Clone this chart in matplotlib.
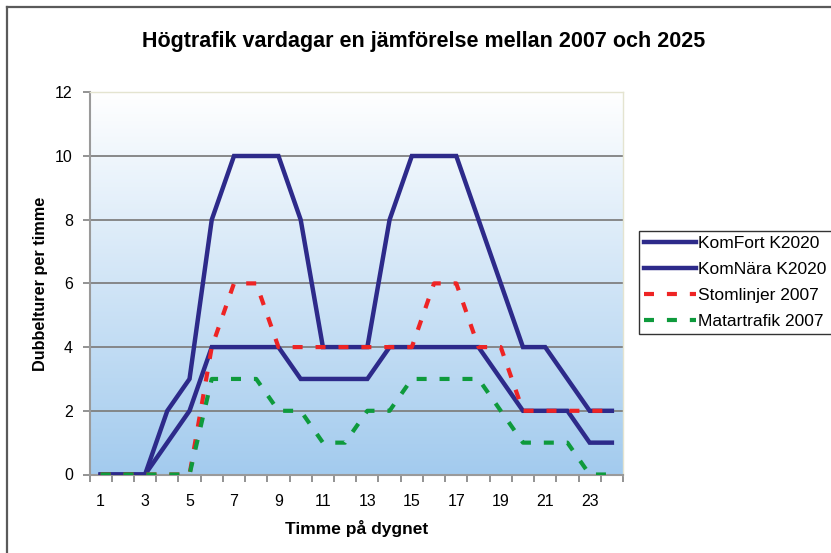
import numpy as np
import matplotlib
matplotlib.use("Agg")
import matplotlib.pyplot as plt
from matplotlib.lines import Line2D

plt.rcParams['font.family'] = ['Liberation Sans', 'DejaVu Sans']

### DATA
hours = list(range(1, 25))
komfort = [0, 0, 0, 2, 3, 8, 10, 10, 10, 8, 4, 4, 4, 8, 10, 10, 10, 8, 6, 4, 4, 3, 2, 2]
komnara = [0, 0, 0, 1, 2, 4, 4, 4, 4, 3, 3, 3, 3, 4, 4, 4, 4, 4, 3, 2, 2, 2, 1, 1]
stomlinjer = [0, 0, 0, 0, 0, 4, 6, 6, 4, 4, 4, 4, 4, 4, 4, 6, 6, 4, 4, 2, 2, 2, 2, 2]
matartrafik = [0, 0, 0, 0, 0, 3, 3, 3, 2, 2, 1, 1, 2, 2, 3, 3, 3, 3, 2, 1, 1, 1, 0, 0]
labels = ["KomFort K2020", "KomNära K2020", "Stomlinjer 2007", "Matartrafik 2007"]
y_ticks = [0, 2, 4, 6, 8, 10, 12]

NAVY = "#2D2A8A"
RED = "#EE2424"
GREEN = "#0E9A3C"

fig = plt.figure(figsize=(8.31, 5.53), dpi=100)
ax = fig.add_axes([89.5 / 831, 1 - 474.5 / 553, (623 - 89.5) / 831, (474.5 - 92.3) / 553])

### gradient background
grad = np.linspace(0, 1, 256).reshape(-1, 1)
top = np.array([1.0, 1.0, 1.0])
bot = np.array([0xA3, 0xCB, 0xEE]) / 255
img = top * (1 - grad[..., None]) + bot * grad[..., None]
img = img.reshape(256, 1, 3)
ax.imshow(img, extent=(0.5, 24.5, 0, 12), aspect='auto', zorder=0, origin='upper')

### grid lines
for yv in y_ticks[1:-1]:
    ax.axhline(yv, color="#808080", lw=1.3, zorder=1)

### the lines
ax.plot(hours, komfort, color=NAVY, lw=3.2, label=labels[0], zorder=3, solid_joinstyle='miter')
ax.plot(hours, komnara, color=NAVY, lw=3.2, label=labels[1], zorder=3, solid_joinstyle='miter')
ax.plot(hours, stomlinjer, color=RED, lw=3, dashes=(2.4, 3.1), label=labels[2], zorder=4)
ax.plot(hours, matartrafik, color=GREEN, lw=3, dashes=(2.4, 3.1), label=labels[3], zorder=5)

ax.set_xlim(0.5, 24.5)
ax.set_ylim(0, 12)
ax.set_yticks(y_ticks)
ax.set_xticks(hours[::2])
ax.set_xticks(np.arange(0.5, 25, 1), minor=True)
ax.tick_params(axis='x', which='major', length=0, pad=14, labelsize=11.5)
ax.tick_params(axis='x', which='minor', length=5, color="#808080", width=1.2)
ax.tick_params(axis='y', length=5, color="#808080", width=1.2, pad=7, labelsize=11.5)

for s in ['left', 'bottom']:
    ax.spines[s].set_color("#9a9a9a")
    ax.spines[s].set_linewidth(1.5)
for s in ['top', 'right']:
    ax.spines[s].set_color("#e4e4d0")
    ax.spines[s].set_linewidth(1.0)

ax.set_ylabel("Dubbelturer per timme", fontsize=11.7, fontweight="bold")
ax.yaxis.set_label_coords(-0.078, 0.5)
ax.set_xlabel("Timme på dygnet", fontsize=12.5, fontweight="bold")
ax.xaxis.set_label_coords(0.5, -0.118)

fig.text(424 / 831, 1 - 41 / 553, "Högtrafik vardagar en jämförelse mellan 2007 och 2025",
         ha='center', va='center', fontsize=15.5, fontweight="bold")

leg = ax.legend(loc='upper left', bbox_to_anchor=(639 / 831, 1 - 231 / 553),
                bbox_transform=fig.transFigure, borderaxespad=0, fontsize=12.5,
                handlelength=3.0, handletextpad=0.1, labelspacing=0.62,
                fancybox=False, framealpha=1, edgecolor="#333333", borderpad=0.3)
leg.get_frame().set_linewidth(1.0)

### outer frame of the chart
fig.add_artist(Line2D([7 / 831, 7 / 831], [0, 1 - 7 / 553], transform=fig.transFigure,
                      color="#5a5a5a", lw=1.6))
fig.add_artist(Line2D([7 / 831, 1], [1 - 7 / 553, 1 - 7 / 553], transform=fig.transFigure,
                      color="#5a5a5a", lw=1.6))

fig.savefig("out.png", dpi=100)
